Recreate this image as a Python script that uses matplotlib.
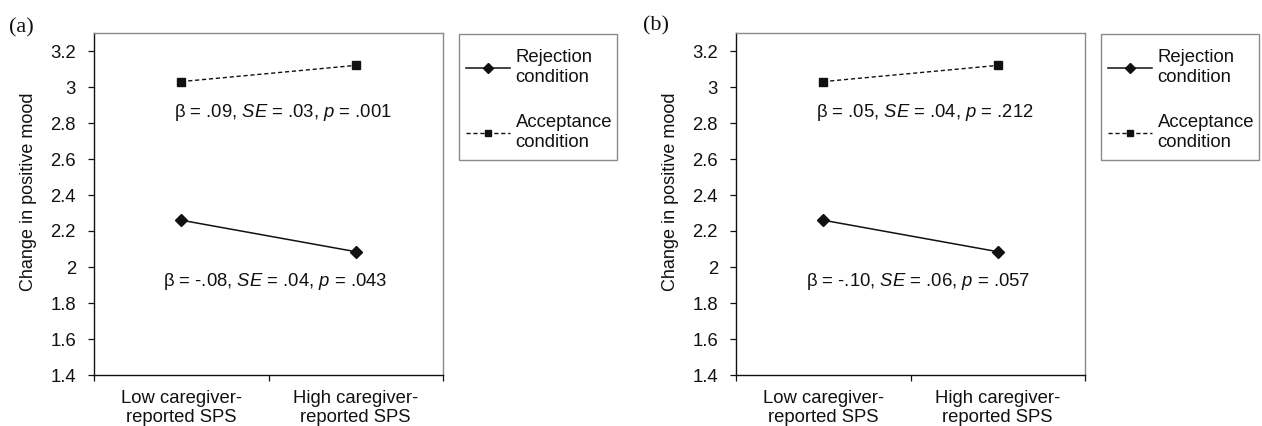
import matplotlib
matplotlib.use("Agg")
import matplotlib.pyplot as plt
from matplotlib.patches import Rectangle
from matplotlib.ticker import FixedLocator, FixedFormatter

plt.rcParams['font.family'] = ['Liberation Sans', 'DejaVu Sans']
plt.rcParams['mathtext.fontset'] = 'custom'
plt.rcParams['mathtext.rm'] = 'Liberation Sans'
plt.rcParams['mathtext.it'] = 'Liberation Sans:italic'

# ---- data ----
categories = ["Low caregiver-\nreported SPS", "High caregiver-\nreported SPS"]
rejection_a = [2.26, 2.085]
acceptance_a = [3.03, 3.12]
rejection_b = [2.26, 2.085]
acceptance_b = [3.03, 3.12]
series_labels = ["Rejection\ncondition", "Acceptance\ncondition"]
yticks = [1.4, 1.6, 1.8, 2.0, 2.2, 2.4, 2.6, 2.8, 3.0, 3.2]
ytick_labels = ["1.4", "1.6", "1.8", "2", "2.2", "2.4", "2.6", "2.8", "3", "3.2"]
panel_labels = ["(a)", "(b)"]
stats_acc = [r"β = .09, $\mathit{SE}$ = .03, $\mathit{p}$ = .001",
             r"β = .05, $\mathit{SE}$ = .04, $\mathit{p}$ = .212"]
stats_rej = [r"β = -.08, $\mathit{SE}$ = .04, $\mathit{p}$ = .043",
             r"β = -.10, $\mathit{SE}$ = .06, $\mathit{p}$ = .057"]

W, H = 1262, 426
fig = plt.figure(figsize=(W / 100, H / 100), dpi=100)

ax_left_px = [94, 736]
ax_w_px, ax_top_px, ax_bot_px = 349, 33, 375
legend_box_px = [(459, 34, 158, 126), (1101, 34, 158, 126)]
panel_xy_px = [(9, 28), (643, 26)]

data = [(rejection_a, acceptance_a), (rejection_b, acceptance_b)]
FS = 13.3
dark = "#111111"
gray = "#8a8a8a"

for i in range(2):
    ax = fig.add_axes([ax_left_px[i] / W, (H - ax_bot_px) / H,
                       ax_w_px / W, (ax_bot_px - ax_top_px) / H])
    rej, acc = data[i]
    xs = [0.5 + k for k in range(len(categories))]
    l1, = ax.plot(xs, rej, color=dark, lw=1.1, marker='D', ms=6.2,
                  markerfacecolor=dark, markeredgecolor=dark,
                  label=series_labels[0])
    l2, = ax.plot(xs, acc, color=dark, lw=1.0, ls=(0, (3.0, 2.0)),
                  marker='s', ms=6.4, markerfacecolor=dark,
                  markeredgecolor=dark, label=series_labels[1])
    ax.set_xlim(0, len(categories))
    ax.set_ylim(1.4, 3.3)

    ax.yaxis.set_major_locator(FixedLocator(yticks))
    ax.yaxis.set_major_formatter(FixedFormatter(ytick_labels))
    ax.tick_params(axis='y', direction='out', length=4.5, width=0.9,
                   pad=8.5, labelsize=FS, colors=dark)

    ax.xaxis.set_major_locator(FixedLocator([0, 1, 2]))
    ax.xaxis.set_major_formatter(FixedFormatter(["", "", ""]))
    ax.xaxis.set_minor_locator(FixedLocator(xs))
    ax.xaxis.set_minor_formatter(FixedFormatter(categories))
    ax.tick_params(axis='x', which='major', direction='out', length=4.5,
                   width=0.9, colors=dark)
    ax.tick_params(axis='x', which='minor', length=0, pad=11, labelsize=FS,
                   colors=dark)
    for lab in ax.xaxis.get_minorticklabels():
        lab.set_linespacing(1.12)

    for side in ('left', 'bottom'):
        ax.spines[side].set_color(dark)
        ax.spines[side].set_linewidth(1.0)
    for side in ('top', 'right'):
        ax.spines[side].set_color(gray)
        ax.spines[side].set_linewidth(1.0)

    ax.set_ylabel("Change in positive mood", fontsize=13, color=dark)
    ax.yaxis.set_label_coords(-0.163, 0.535)

    ax.text(1.083, 2.86, stats_acc[i], ha='center', va='center',
            fontsize=FS, color=dark)
    ax.text(1.04, 1.918, stats_rej[i], ha='center', va='center',
            fontsize=FS, color=dark)

    bx, by, bw, bh = legend_box_px[i]
    fig.patches.append(Rectangle((bx / W, 1 - (by + bh) / H), bw / W, bh / H,
                                 transform=fig.transFigure, fill=False,
                                 edgecolor=gray, lw=1.0))
    leg = ax.legend(handles=[l1, l2], loc='upper left',
                    bbox_to_anchor=((bx + 7) / W, 1 - (by + 15) / H),
                    bbox_transform=fig.transFigure, fontsize=FS,
                    frameon=False, handlelength=2.4, handletextpad=0.28,
                    borderpad=0, labelspacing=1.5, numpoints=1,
                    markerscale=0.75, borderaxespad=0)
    for t in leg.get_texts():
        t.set_linespacing(1.25)
        t.set_color(dark)

    fig.text(panel_xy_px[i][0] / W, 1 - panel_xy_px[i][1] / H, panel_labels[i],
             family='Liberation Serif', fontsize=16, ha='left', va='center',
             color=dark)

fig.savefig("out.png", dpi=100)
